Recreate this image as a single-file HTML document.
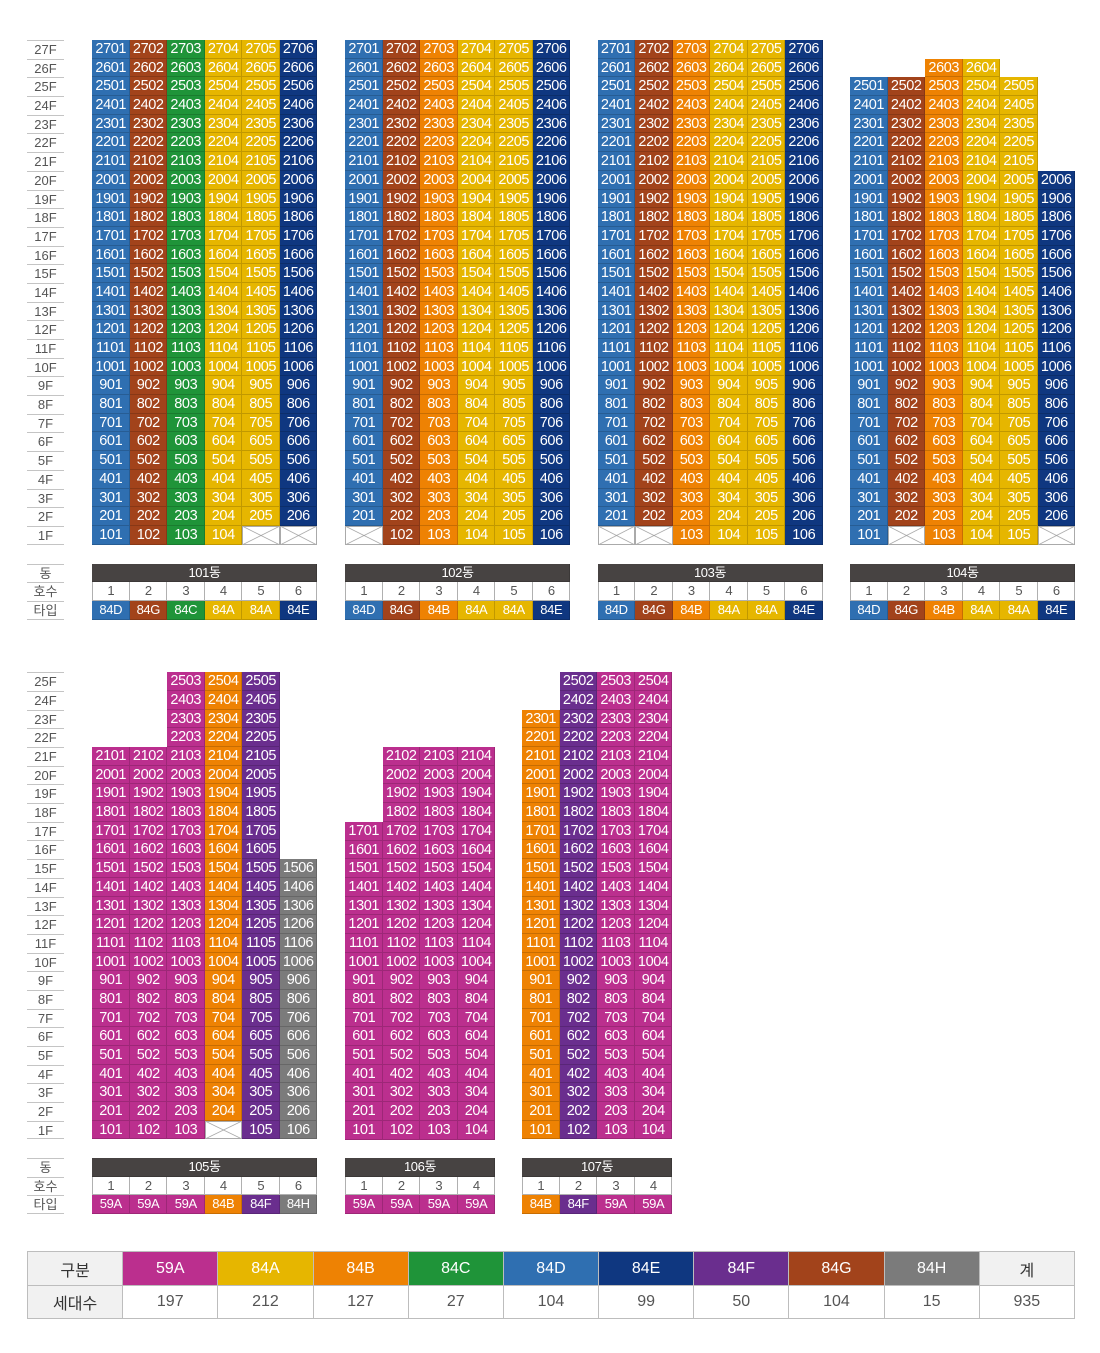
<!DOCTYPE html>
<html><head><meta charset="utf-8">
<style>
body{margin:0;width:1100px;height:1353px;background:#fff;position:relative;overflow:hidden;font-family:"Liberation Sans","Noto Sans CJK KR",sans-serif}
.g{position:absolute;display:grid;grid-auto-rows:18.7px}
.g6{grid-template-columns:repeat(6,37.5px)}
.g4{grid-template-columns:repeat(4,37.5px)}
.g i{font-style:normal;color:#fff;font-size:14.5px;line-height:18.7px;text-align:center;box-shadow:inset -1px -1px 0 rgba(0,0,0,.16);letter-spacing:-0.4px;white-space:nowrap;overflow:hidden}
.D{background:#2f6fb1}.G{background:#a2431b}.C{background:#1f9439}.A{background:#e6b600}.E{background:#0f3780}
.B{background:#ee8203}.M{background:#bb2f8e}.F{background:#6a2e8e}.H{background:#7b7b7b}
.t1 i:nth-child(6n+1){background:#2f6fb1}.t1 i:nth-child(6n+2){background:#a2431b}.t1 i:nth-child(6n+3){background:#1f9439}
.t1 i:nth-child(6n+4),.t1 i:nth-child(6n+5){background:#e6b600}.t1 i:nth-child(6n){background:#0f3780}
.t2 i:nth-child(6n+1){background:#2f6fb1}.t2 i:nth-child(6n+2){background:#a2431b}.t2 i:nth-child(6n+3){background:#ee8203}
.t2 i:nth-child(6n+4),.t2 i:nth-child(6n+5){background:#e6b600}.t2 i:nth-child(6n){background:#0f3780}
.t5 i:nth-child(6n+1),.t5 i:nth-child(6n+2),.t5 i:nth-child(6n+3){background:#bb2f8e}.t5 i:nth-child(6n+4){background:#ee8203}
.t5 i:nth-child(6n+5){background:#6a2e8e}.t5 i:nth-child(6n){background:#7b7b7b}
.t6 i{background:#bb2f8e}
.t7 i:nth-child(4n+1){background:#ee8203}.t7 i:nth-child(4n+2){background:#6a2e8e}.t7 i:nth-child(4n+3),.t7 i:nth-child(4n){background:#bb2f8e}
.g i.n{background:none!important;box-shadow:none}
.g i.x{background:linear-gradient(to top right,transparent calc(50% - 0.7px),#9a9a9a 50%,transparent calc(50% + 0.7px)),linear-gradient(to bottom right,transparent calc(50% - 0.7px),#9a9a9a 50%,transparent calc(50% + 0.7px)),#fff!important;box-shadow:inset 0 0 0 1px #aaa}
.tb i.dg{grid-column:1/-1;background:#474342;font-size:13px}
.tb i.w{background:#fff;color:#555;font-size:13px;box-shadow:inset -1px -1px 0 #b0b0b0,inset 1px 0 0 #b0b0b0}
.tb i.w:not(:nth-child(2)){box-shadow:inset -1px -1px 0 #b0b0b0}
.tb i.ty{font-size:13px}
.lab{position:absolute;left:27px;width:37px;display:grid;grid-auto-rows:18.7px}
.lab div{border-top:1px solid #c4c4c4;box-sizing:border-box;font-size:13px;color:#555;text-align:center;line-height:18px}
.lab div:last-child{border-bottom:1px solid #c4c4c4}
table.lg{position:absolute;left:27px;top:1251px;width:1048px;border-collapse:collapse;table-layout:fixed;font-size:16px}
.lg td{border:1px solid #bdbdbd;text-align:center;padding:0;color:#fff}
.lg tr.r1 td{height:33px}
.lg tr.r2 td{height:32px;color:#555;background:#fff}
.lg td.hd{background:#f1f1f1!important;color:#333!important}
</style></head><body>

<div class="lab" style="top:40px"><div>27F</div><div>26F</div><div>25F</div><div>24F</div><div>23F</div><div>22F</div><div>21F</div><div>20F</div><div>19F</div><div>18F</div><div>17F</div><div>16F</div><div>15F</div><div>14F</div><div>13F</div><div>12F</div><div>11F</div><div>10F</div><div>9F</div><div>8F</div><div>7F</div><div>6F</div><div>5F</div><div>4F</div><div>3F</div><div>2F</div><div>1F</div></div>
<div class="lab" style="top:563.6px"><div>동</div><div>호수</div><div>타입</div></div>

<div class="g g6 t1" style="left:92px;top:40px">
<i>2701</i><i>2702</i><i>2703</i><i>2704</i><i>2705</i><i>2706</i>
<i>2601</i><i>2602</i><i>2603</i><i>2604</i><i>2605</i><i>2606</i>
<i>2501</i><i>2502</i><i>2503</i><i>2504</i><i>2505</i><i>2506</i>
<i>2401</i><i>2402</i><i>2403</i><i>2404</i><i>2405</i><i>2406</i>
<i>2301</i><i>2302</i><i>2303</i><i>2304</i><i>2305</i><i>2306</i>
<i>2201</i><i>2202</i><i>2203</i><i>2204</i><i>2205</i><i>2206</i>
<i>2101</i><i>2102</i><i>2103</i><i>2104</i><i>2105</i><i>2106</i>
<i>2001</i><i>2002</i><i>2003</i><i>2004</i><i>2005</i><i>2006</i>
<i>1901</i><i>1902</i><i>1903</i><i>1904</i><i>1905</i><i>1906</i>
<i>1801</i><i>1802</i><i>1803</i><i>1804</i><i>1805</i><i>1806</i>
<i>1701</i><i>1702</i><i>1703</i><i>1704</i><i>1705</i><i>1706</i>
<i>1601</i><i>1602</i><i>1603</i><i>1604</i><i>1605</i><i>1606</i>
<i>1501</i><i>1502</i><i>1503</i><i>1504</i><i>1505</i><i>1506</i>
<i>1401</i><i>1402</i><i>1403</i><i>1404</i><i>1405</i><i>1406</i>
<i>1301</i><i>1302</i><i>1303</i><i>1304</i><i>1305</i><i>1306</i>
<i>1201</i><i>1202</i><i>1203</i><i>1204</i><i>1205</i><i>1206</i>
<i>1101</i><i>1102</i><i>1103</i><i>1104</i><i>1105</i><i>1106</i>
<i>1001</i><i>1002</i><i>1003</i><i>1004</i><i>1005</i><i>1006</i>
<i>901</i><i>902</i><i>903</i><i>904</i><i>905</i><i>906</i>
<i>801</i><i>802</i><i>803</i><i>804</i><i>805</i><i>806</i>
<i>701</i><i>702</i><i>703</i><i>704</i><i>705</i><i>706</i>
<i>601</i><i>602</i><i>603</i><i>604</i><i>605</i><i>606</i>
<i>501</i><i>502</i><i>503</i><i>504</i><i>505</i><i>506</i>
<i>401</i><i>402</i><i>403</i><i>404</i><i>405</i><i>406</i>
<i>301</i><i>302</i><i>303</i><i>304</i><i>305</i><i>306</i>
<i>201</i><i>202</i><i>203</i><i>204</i><i>205</i><i>206</i>
<i>101</i><i>102</i><i>103</i><i>104</i><i class="x"></i><i class="x"></i>
</div>

<div class="g g6 t2" style="left:345px;top:40px">
<i>2701</i><i>2702</i><i>2703</i><i>2704</i><i>2705</i><i>2706</i>
<i>2601</i><i>2602</i><i>2603</i><i>2604</i><i>2605</i><i>2606</i>
<i>2501</i><i>2502</i><i>2503</i><i>2504</i><i>2505</i><i>2506</i>
<i>2401</i><i>2402</i><i>2403</i><i>2404</i><i>2405</i><i>2406</i>
<i>2301</i><i>2302</i><i>2303</i><i>2304</i><i>2305</i><i>2306</i>
<i>2201</i><i>2202</i><i>2203</i><i>2204</i><i>2205</i><i>2206</i>
<i>2101</i><i>2102</i><i>2103</i><i>2104</i><i>2105</i><i>2106</i>
<i>2001</i><i>2002</i><i>2003</i><i>2004</i><i>2005</i><i>2006</i>
<i>1901</i><i>1902</i><i>1903</i><i>1904</i><i>1905</i><i>1906</i>
<i>1801</i><i>1802</i><i>1803</i><i>1804</i><i>1805</i><i>1806</i>
<i>1701</i><i>1702</i><i>1703</i><i>1704</i><i>1705</i><i>1706</i>
<i>1601</i><i>1602</i><i>1603</i><i>1604</i><i>1605</i><i>1606</i>
<i>1501</i><i>1502</i><i>1503</i><i>1504</i><i>1505</i><i>1506</i>
<i>1401</i><i>1402</i><i>1403</i><i>1404</i><i>1405</i><i>1406</i>
<i>1301</i><i>1302</i><i>1303</i><i>1304</i><i>1305</i><i>1306</i>
<i>1201</i><i>1202</i><i>1203</i><i>1204</i><i>1205</i><i>1206</i>
<i>1101</i><i>1102</i><i>1103</i><i>1104</i><i>1105</i><i>1106</i>
<i>1001</i><i>1002</i><i>1003</i><i>1004</i><i>1005</i><i>1006</i>
<i>901</i><i>902</i><i>903</i><i>904</i><i>905</i><i>906</i>
<i>801</i><i>802</i><i>803</i><i>804</i><i>805</i><i>806</i>
<i>701</i><i>702</i><i>703</i><i>704</i><i>705</i><i>706</i>
<i>601</i><i>602</i><i>603</i><i>604</i><i>605</i><i>606</i>
<i>501</i><i>502</i><i>503</i><i>504</i><i>505</i><i>506</i>
<i>401</i><i>402</i><i>403</i><i>404</i><i>405</i><i>406</i>
<i>301</i><i>302</i><i>303</i><i>304</i><i>305</i><i>306</i>
<i>201</i><i>202</i><i>203</i><i>204</i><i>205</i><i>206</i>
<i class="x"></i><i>102</i><i>103</i><i>104</i><i>105</i><i>106</i>
</div>

<div class="g g6 t2" style="left:597.5px;top:40px">
<i>2701</i><i>2702</i><i>2703</i><i>2704</i><i>2705</i><i>2706</i>
<i>2601</i><i>2602</i><i>2603</i><i>2604</i><i>2605</i><i>2606</i>
<i>2501</i><i>2502</i><i>2503</i><i>2504</i><i>2505</i><i>2506</i>
<i>2401</i><i>2402</i><i>2403</i><i>2404</i><i>2405</i><i>2406</i>
<i>2301</i><i>2302</i><i>2303</i><i>2304</i><i>2305</i><i>2306</i>
<i>2201</i><i>2202</i><i>2203</i><i>2204</i><i>2205</i><i>2206</i>
<i>2101</i><i>2102</i><i>2103</i><i>2104</i><i>2105</i><i>2106</i>
<i>2001</i><i>2002</i><i>2003</i><i>2004</i><i>2005</i><i>2006</i>
<i>1901</i><i>1902</i><i>1903</i><i>1904</i><i>1905</i><i>1906</i>
<i>1801</i><i>1802</i><i>1803</i><i>1804</i><i>1805</i><i>1806</i>
<i>1701</i><i>1702</i><i>1703</i><i>1704</i><i>1705</i><i>1706</i>
<i>1601</i><i>1602</i><i>1603</i><i>1604</i><i>1605</i><i>1606</i>
<i>1501</i><i>1502</i><i>1503</i><i>1504</i><i>1505</i><i>1506</i>
<i>1401</i><i>1402</i><i>1403</i><i>1404</i><i>1405</i><i>1406</i>
<i>1301</i><i>1302</i><i>1303</i><i>1304</i><i>1305</i><i>1306</i>
<i>1201</i><i>1202</i><i>1203</i><i>1204</i><i>1205</i><i>1206</i>
<i>1101</i><i>1102</i><i>1103</i><i>1104</i><i>1105</i><i>1106</i>
<i>1001</i><i>1002</i><i>1003</i><i>1004</i><i>1005</i><i>1006</i>
<i>901</i><i>902</i><i>903</i><i>904</i><i>905</i><i>906</i>
<i>801</i><i>802</i><i>803</i><i>804</i><i>805</i><i>806</i>
<i>701</i><i>702</i><i>703</i><i>704</i><i>705</i><i>706</i>
<i>601</i><i>602</i><i>603</i><i>604</i><i>605</i><i>606</i>
<i>501</i><i>502</i><i>503</i><i>504</i><i>505</i><i>506</i>
<i>401</i><i>402</i><i>403</i><i>404</i><i>405</i><i>406</i>
<i>301</i><i>302</i><i>303</i><i>304</i><i>305</i><i>306</i>
<i>201</i><i>202</i><i>203</i><i>204</i><i>205</i><i>206</i>
<i class="x"></i><i class="x"></i><i>103</i><i>104</i><i>105</i><i>106</i>
</div>

<div class="g g6 t2" style="left:850px;top:58.7px">
<i class="n"></i><i class="n"></i><i>2603</i><i>2604</i><i class="n"></i><i class="n"></i>
<i>2501</i><i>2502</i><i>2503</i><i>2504</i><i>2505</i><i class="n"></i>
<i>2401</i><i>2402</i><i>2403</i><i>2404</i><i>2405</i><i class="n"></i>
<i>2301</i><i>2302</i><i>2303</i><i>2304</i><i>2305</i><i class="n"></i>
<i>2201</i><i>2202</i><i>2203</i><i>2204</i><i>2205</i><i class="n"></i>
<i>2101</i><i>2102</i><i>2103</i><i>2104</i><i>2105</i><i class="n"></i>
<i>2001</i><i>2002</i><i>2003</i><i>2004</i><i>2005</i><i>2006</i>
<i>1901</i><i>1902</i><i>1903</i><i>1904</i><i>1905</i><i>1906</i>
<i>1801</i><i>1802</i><i>1803</i><i>1804</i><i>1805</i><i>1806</i>
<i>1701</i><i>1702</i><i>1703</i><i>1704</i><i>1705</i><i>1706</i>
<i>1601</i><i>1602</i><i>1603</i><i>1604</i><i>1605</i><i>1606</i>
<i>1501</i><i>1502</i><i>1503</i><i>1504</i><i>1505</i><i>1506</i>
<i>1401</i><i>1402</i><i>1403</i><i>1404</i><i>1405</i><i>1406</i>
<i>1301</i><i>1302</i><i>1303</i><i>1304</i><i>1305</i><i>1306</i>
<i>1201</i><i>1202</i><i>1203</i><i>1204</i><i>1205</i><i>1206</i>
<i>1101</i><i>1102</i><i>1103</i><i>1104</i><i>1105</i><i>1106</i>
<i>1001</i><i>1002</i><i>1003</i><i>1004</i><i>1005</i><i>1006</i>
<i>901</i><i>902</i><i>903</i><i>904</i><i>905</i><i>906</i>
<i>801</i><i>802</i><i>803</i><i>804</i><i>805</i><i>806</i>
<i>701</i><i>702</i><i>703</i><i>704</i><i>705</i><i>706</i>
<i>601</i><i>602</i><i>603</i><i>604</i><i>605</i><i>606</i>
<i>501</i><i>502</i><i>503</i><i>504</i><i>505</i><i>506</i>
<i>401</i><i>402</i><i>403</i><i>404</i><i>405</i><i>406</i>
<i>301</i><i>302</i><i>303</i><i>304</i><i>305</i><i>306</i>
<i>201</i><i>202</i><i>203</i><i>204</i><i>205</i><i>206</i>
<i>101</i><i class="x"></i><i>103</i><i>104</i><i>105</i><i class="x"></i>
</div>

<div class="g g6 tb" style="left:92px;top:563.6px"><i class="dg">101동</i><i class="w">1</i><i class="w">2</i><i class="w">3</i><i class="w">4</i><i class="w">5</i><i class="w">6</i><i class="ty D">84D</i><i class="ty G">84G</i><i class="ty C">84C</i><i class="ty A">84A</i><i class="ty A">84A</i><i class="ty E">84E</i></div>
<div class="g g6 tb" style="left:345px;top:563.6px"><i class="dg">102동</i><i class="w">1</i><i class="w">2</i><i class="w">3</i><i class="w">4</i><i class="w">5</i><i class="w">6</i><i class="ty D">84D</i><i class="ty G">84G</i><i class="ty B">84B</i><i class="ty A">84A</i><i class="ty A">84A</i><i class="ty E">84E</i></div>
<div class="g g6 tb" style="left:597.5px;top:563.6px"><i class="dg">103동</i><i class="w">1</i><i class="w">2</i><i class="w">3</i><i class="w">4</i><i class="w">5</i><i class="w">6</i><i class="ty D">84D</i><i class="ty G">84G</i><i class="ty B">84B</i><i class="ty A">84A</i><i class="ty A">84A</i><i class="ty E">84E</i></div>
<div class="g g6 tb" style="left:850px;top:563.6px"><i class="dg">104동</i><i class="w">1</i><i class="w">2</i><i class="w">3</i><i class="w">4</i><i class="w">5</i><i class="w">6</i><i class="ty D">84D</i><i class="ty G">84G</i><i class="ty B">84B</i><i class="ty A">84A</i><i class="ty A">84A</i><i class="ty E">84E</i></div>

<div class="lab" style="top:672.3px"><div>25F</div><div>24F</div><div>23F</div><div>22F</div><div>21F</div><div>20F</div><div>19F</div><div>18F</div><div>17F</div><div>16F</div><div>15F</div><div>14F</div><div>13F</div><div>12F</div><div>11F</div><div>10F</div><div>9F</div><div>8F</div><div>7F</div><div>6F</div><div>5F</div><div>4F</div><div>3F</div><div>2F</div><div>1F</div></div>
<div class="lab" style="top:1158px"><div>동</div><div>호수</div><div>타입</div></div>

<div class="g g6 t5" style="left:92px;top:672.3px">
<i class="n"></i><i class="n"></i><i>2503</i><i>2504</i><i>2505</i><i class="n"></i>
<i class="n"></i><i class="n"></i><i>2403</i><i>2404</i><i>2405</i><i class="n"></i>
<i class="n"></i><i class="n"></i><i>2303</i><i>2304</i><i>2305</i><i class="n"></i>
<i class="n"></i><i class="n"></i><i>2203</i><i>2204</i><i>2205</i><i class="n"></i>
<i>2101</i><i>2102</i><i>2103</i><i>2104</i><i>2105</i><i class="n"></i>
<i>2001</i><i>2002</i><i>2003</i><i>2004</i><i>2005</i><i class="n"></i>
<i>1901</i><i>1902</i><i>1903</i><i>1904</i><i>1905</i><i class="n"></i>
<i>1801</i><i>1802</i><i>1803</i><i>1804</i><i>1805</i><i class="n"></i>
<i>1701</i><i>1702</i><i>1703</i><i>1704</i><i>1705</i><i class="n"></i>
<i>1601</i><i>1602</i><i>1603</i><i>1604</i><i>1605</i><i class="n"></i>
<i>1501</i><i>1502</i><i>1503</i><i>1504</i><i>1505</i><i>1506</i>
<i>1401</i><i>1402</i><i>1403</i><i>1404</i><i>1405</i><i>1406</i>
<i>1301</i><i>1302</i><i>1303</i><i>1304</i><i>1305</i><i>1306</i>
<i>1201</i><i>1202</i><i>1203</i><i>1204</i><i>1205</i><i>1206</i>
<i>1101</i><i>1102</i><i>1103</i><i>1104</i><i>1105</i><i>1106</i>
<i>1001</i><i>1002</i><i>1003</i><i>1004</i><i>1005</i><i>1006</i>
<i>901</i><i>902</i><i>903</i><i>904</i><i>905</i><i>906</i>
<i>801</i><i>802</i><i>803</i><i>804</i><i>805</i><i>806</i>
<i>701</i><i>702</i><i>703</i><i>704</i><i>705</i><i>706</i>
<i>601</i><i>602</i><i>603</i><i>604</i><i>605</i><i>606</i>
<i>501</i><i>502</i><i>503</i><i>504</i><i>505</i><i>506</i>
<i>401</i><i>402</i><i>403</i><i>404</i><i>405</i><i>406</i>
<i>301</i><i>302</i><i>303</i><i>304</i><i>305</i><i>306</i>
<i>201</i><i>202</i><i>203</i><i>204</i><i>205</i><i>206</i>
<i>101</i><i>102</i><i>103</i><i class="x"></i><i>105</i><i>106</i>
</div>

<div class="g g4 t6" style="left:345px;top:747.1px">
<i class="n"></i><i>2102</i><i>2103</i><i>2104</i>
<i class="n"></i><i>2002</i><i>2003</i><i>2004</i>
<i class="n"></i><i>1902</i><i>1903</i><i>1904</i>
<i class="n"></i><i>1802</i><i>1803</i><i>1804</i>
<i>1701</i><i>1702</i><i>1703</i><i>1704</i>
<i>1601</i><i>1602</i><i>1603</i><i>1604</i>
<i>1501</i><i>1502</i><i>1503</i><i>1504</i>
<i>1401</i><i>1402</i><i>1403</i><i>1404</i>
<i>1301</i><i>1302</i><i>1303</i><i>1304</i>
<i>1201</i><i>1202</i><i>1203</i><i>1204</i>
<i>1101</i><i>1102</i><i>1103</i><i>1104</i>
<i>1001</i><i>1002</i><i>1003</i><i>1004</i>
<i>901</i><i>902</i><i>903</i><i>904</i>
<i>801</i><i>802</i><i>803</i><i>804</i>
<i>701</i><i>702</i><i>703</i><i>704</i>
<i>601</i><i>602</i><i>603</i><i>604</i>
<i>501</i><i>502</i><i>503</i><i>504</i>
<i>401</i><i>402</i><i>403</i><i>404</i>
<i>301</i><i>302</i><i>303</i><i>304</i>
<i>201</i><i>202</i><i>203</i><i>204</i>
<i>101</i><i>102</i><i>103</i><i>104</i>
</div>

<div class="g g4 t7" style="left:522px;top:672.3px">
<i class="n"></i><i>2502</i><i>2503</i><i>2504</i>
<i class="n"></i><i>2402</i><i>2403</i><i>2404</i>
<i>2301</i><i>2302</i><i>2303</i><i>2304</i>
<i>2201</i><i>2202</i><i>2203</i><i>2204</i>
<i>2101</i><i>2102</i><i>2103</i><i>2104</i>
<i>2001</i><i>2002</i><i>2003</i><i>2004</i>
<i>1901</i><i>1902</i><i>1903</i><i>1904</i>
<i>1801</i><i>1802</i><i>1803</i><i>1804</i>
<i>1701</i><i>1702</i><i>1703</i><i>1704</i>
<i>1601</i><i>1602</i><i>1603</i><i>1604</i>
<i>1501</i><i>1502</i><i>1503</i><i>1504</i>
<i>1401</i><i>1402</i><i>1403</i><i>1404</i>
<i>1301</i><i>1302</i><i>1303</i><i>1304</i>
<i>1201</i><i>1202</i><i>1203</i><i>1204</i>
<i>1101</i><i>1102</i><i>1103</i><i>1104</i>
<i>1001</i><i>1002</i><i>1003</i><i>1004</i>
<i>901</i><i>902</i><i>903</i><i>904</i>
<i>801</i><i>802</i><i>803</i><i>804</i>
<i>701</i><i>702</i><i>703</i><i>704</i>
<i>601</i><i>602</i><i>603</i><i>604</i>
<i>501</i><i>502</i><i>503</i><i>504</i>
<i>401</i><i>402</i><i>403</i><i>404</i>
<i>301</i><i>302</i><i>303</i><i>304</i>
<i>201</i><i>202</i><i>203</i><i>204</i>
<i>101</i><i>102</i><i>103</i><i>104</i>
</div>

<div class="g g6 tb" style="left:92px;top:1158px"><i class="dg">105동</i><i class="w">1</i><i class="w">2</i><i class="w">3</i><i class="w">4</i><i class="w">5</i><i class="w">6</i><i class="ty M">59A</i><i class="ty M">59A</i><i class="ty M">59A</i><i class="ty B">84B</i><i class="ty F">84F</i><i class="ty H">84H</i></div>
<div class="g g4 tb" style="left:345px;top:1158px"><i class="dg">106동</i><i class="w">1</i><i class="w">2</i><i class="w">3</i><i class="w">4</i><i class="ty M">59A</i><i class="ty M">59A</i><i class="ty M">59A</i><i class="ty M">59A</i></div>
<div class="g g4 tb" style="left:522px;top:1158px"><i class="dg">107동</i><i class="w">1</i><i class="w">2</i><i class="w">3</i><i class="w">4</i><i class="ty B">84B</i><i class="ty F">84F</i><i class="ty M">59A</i><i class="ty M">59A</i></div>

<table class="lg">
<tr class="r1"><td class="hd">구분</td><td class="M">59A</td><td class="A">84A</td><td class="B">84B</td><td class="C">84C</td><td class="D">84D</td><td class="E">84E</td><td class="F">84F</td><td class="G">84G</td><td class="H">84H</td><td class="hd">계</td></tr>
<tr class="r2"><td class="hd">세대수</td><td>197</td><td>212</td><td>127</td><td>27</td><td>104</td><td>99</td><td>50</td><td>104</td><td>15</td><td>935</td></tr>
</table>
</body></html>
